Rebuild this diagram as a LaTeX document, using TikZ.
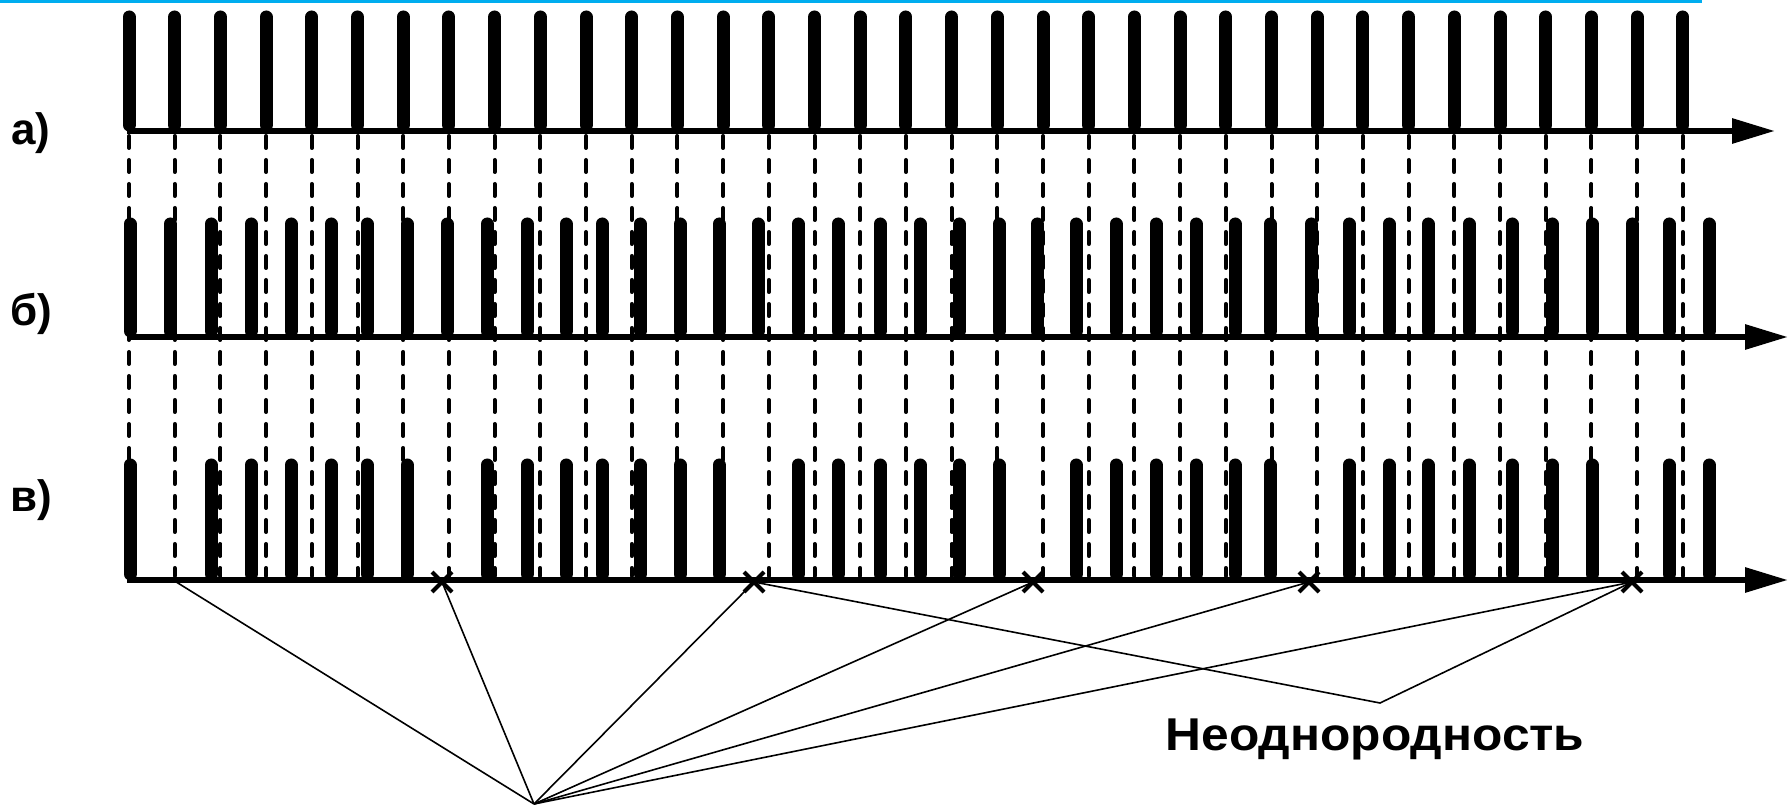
\documentclass[tikz,border=0pt]{standalone}
\usepackage{fontspec}
\setmainfont{Liberation Sans}
\usetikzlibrary{arrows.meta,positioning,shapes.misc}

\begin{document}
\begin{tikzpicture}[
  x=0.5pt, y=-0.5pt,
  pulse/.style={line width=6.5pt, line cap=round},
  axis/.style={line width=3pt, -{Triangle[length=21.5pt,width=12pt]}},
  guide/.style={line width=2pt, dash pattern=on 6pt off 6pt, line cap=round},
  lead/.style={line width=0.8pt},
  xmark/.style={cross out, draw, line width=2pt, minimum size=8pt, inner sep=0pt},
  lbl/.style={font=\bfseries\fontsize{22}{26}\selectfont}
]
\useasboundingbox (0,0) rectangle (1789,807);
\draw[cyan, line width=1.5pt] (0,1.5) -- (1702,1.5);

% regular clock, guides down to the last row
\foreach \i in {0,...,34} {
  \pgfmathsetmacro\xa{129+45.7*\i}
  \draw[guide] (\xa,136) -- (\xa,576);
  \draw[pulse] (\xa,17) -- (\xa,125);
}

% jittered pulses
\foreach \xb in {130,170,211,251,291,331,367,407,447,487,527,566,602,640,680,
  719,758,798,838,880,920,959,999,1037,1076,1116,1156,1196,1235,1270,1311,
  1349,1389,1428,1469,1512,1552,1592,1632,1669,1709}
  \draw[pulse] (\xb,224) -- (\xb,331);

% jittered pulses with dropouts
\foreach \xc in {130,211,251,291,331,367,407,487,527,566,602,640,680,719,798,
  838,880,920,959,999,1076,1116,1156,1196,1235,1270,1349,1389,1428,1469,1512,
  1552,1592,1669,1709}
  \draw[pulse] (\xc,465) -- (\xc,574);

\draw[axis] (127,131) -- (1775,131);
\draw[axis] (127,337) -- (1788,337);
\draw[axis] (127,580) -- (1788,580);

\node[lbl] (la) at (31,133) {а)};
\node[lbl] (lb) at (31,314) {б)};
\node[lbl] (lc) at (31,500) {в)};

% dropouts
\coordinate (m0) at (173,580);
\node[xmark] (x1) at (442,582) {};
\node[xmark] (x2) at (754,582) {};
\node[xmark] (x3) at (1033,582) {};
\node[xmark] (x4) at (1309,582) {};
\node[xmark] (x5) at (1632,582) {};

\coordinate (hub) at (534,804);
\coordinate (vee) at (1380,703);
\foreach \t in {m0,x1,x2,x3,x4,x5}
  \draw[lead] (hub) -- (\t.center);
\draw[lead] (x2.center) -- (vee) -- (x5.center);

\node[font=\bfseries\fontsize{23}{26}\selectfont, xscale=1.08, transform shape]
  (inhom) at (1375,739) {Неоднородность};
\end{tikzpicture}
\end{document}
